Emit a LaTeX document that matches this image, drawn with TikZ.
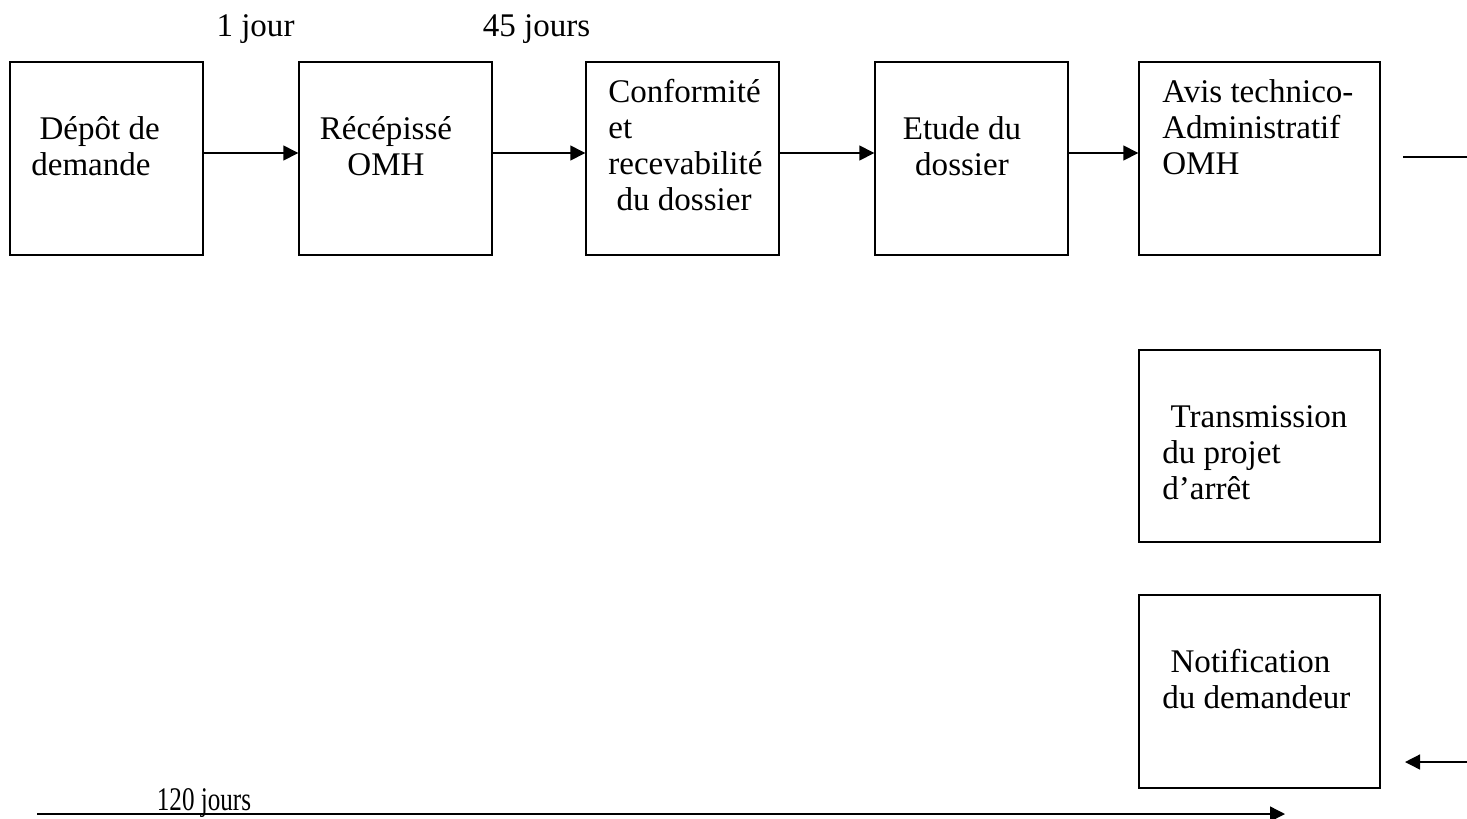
\documentclass[tikz,border=0pt]{standalone}
\usepackage{fontspec}
\setmainfont{Liberation Serif}
\usetikzlibrary{arrows,arrows.meta}
\usetikzlibrary{calc}
\definecolor{trait}{RGB}{0,0,0}

\begin{document}
\begin{tikzpicture}[trait,
    boite/.style={draw, line width=0.8pt, minimum width=3.86cm, minimum height=3.86cm, inner sep=0pt},
    large/.style={boite, minimum width=4.82cm},
    texte/.style={anchor=base west, inner sep=0pt, align=left, font=\fontsize{18.8}{20.3}\selectfont},
    fleche/.style={line width=0.8pt, -{Triangle[length=0.3cm, width=0.3cm]}}
]

    \useasboundingbox (0,0) rectangle (29.34,-16.36);

    % etapes
    \node[boite] (depot) at (2.13,-3.17) {};
    \node[boite] (recep) at (7.91,-3.17) {};
    \node[boite] (conf) at (13.65,-3.17) {};
    \node[boite] (etude) at (19.43,-3.17) {};
    \node[large] (avis) at (25.19,-3.17) {};
    \node[large, minimum height=3.84cm] (trans) at (25.19,-8.92) {};
    \node[large] (notif) at (25.19,-13.83) {};

    % textes (ancre : ligne de base de la derniere ligne)
    \node[texte] (t-depot) at (0.62,-3.5) {\hspace*{.25em}Dépôt de\\demande};
    \node[texte, anchor=base, align=center] (t-recep) at (7.72,-3.5) {Récépissé\\OMH};
    \node[texte] (t-conf) at (12.16,-4.2) {Conformité\\et\\recevabilité\\\hspace*{.25em}du dossier};
    \node[texte, anchor=base, align=center] (t-etude) at (19.24,-3.5) {Etude du\\dossier};
    \node[texte] (t-avis) at (23.24,-3.48) {Avis technico-\\Administratif\\OMH};
    \node[texte] (t-trans) at (23.24,-9.98) {\hspace*{.25em}Transmission\\du projet\\d’arrêt};
    \node[texte] (t-notif) at (23.24,-14.16) {\hspace*{.25em}Notification\\du demandeur};

    % delais
    \node[texte, anchor=base] (d1) at (5.11,-0.72) {1 jour};
    \node[texte, anchor=base] (d45) at (10.73,-0.72) {45 jours};
    \node[texte, anchor=base, xscale=0.76, transform shape] (d120) at (4.08,-16.2) {120 jours};

    \draw[fleche] ([yshift=0.11cm]depot.east) -- ([yshift=0.11cm]recep.west);
    \draw[fleche] ([yshift=0.11cm]recep.east) -- ([yshift=0.11cm]conf.west);
    \draw[fleche] ([yshift=0.11cm]conf.east) -- ([yshift=0.11cm]etude.west);
    \draw[fleche] ([yshift=0.11cm]etude.east) -- ([yshift=0.11cm]avis.west);

    \coordinate (sortie-a) at (28.06,-3.14);
    \coordinate (sortie-b) at (29.34,-3.14);
    \draw[line width=0.8pt] (sortie-a) -- (sortie-b);

    \coordinate (retour-a) at (29.34,-15.24);
    \coordinate (retour-b) at (28.1,-15.24);
    \draw[fleche] (retour-a) -- (retour-b);

    \coordinate (total-a) at (0.74,-16.28);
    \coordinate (total-b) at (25.7,-16.28);
    \draw[fleche] (total-a) -- (total-b);

\end{tikzpicture}
\end{document}
